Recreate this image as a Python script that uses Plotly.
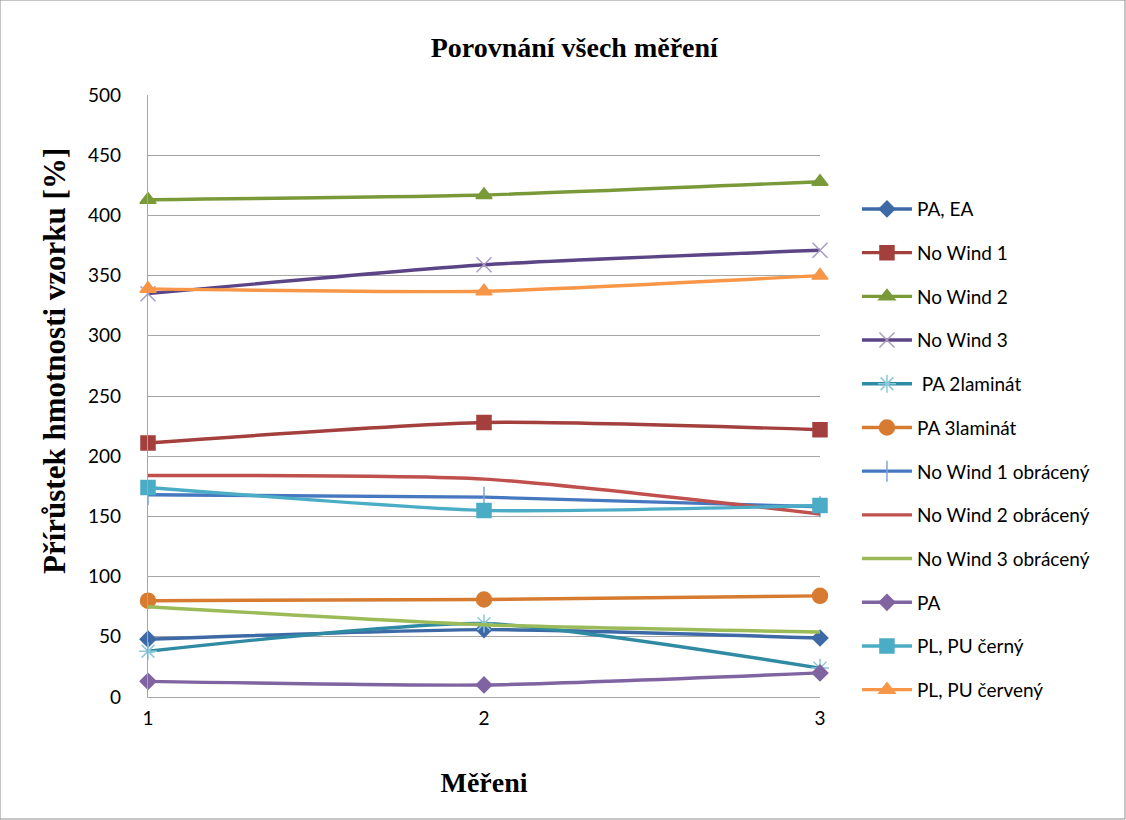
import plotly.graph_objects as go

# Measurement rounds
mereni = [1, 2, 3]

# Mass gain of each sample [%]
pa_ea = [48, 56, 49]
no_wind_1 = [211, 228, 222]
no_wind_2 = [413, 417, 428]
no_wind_3 = [335, 359, 371]
pa_2laminat = [38, 61, 24]
pa_3laminat = [80, 81, 84]
no_wind_1_obr = [168, 166, 158]
no_wind_2_obr = [184, 181, 152]
no_wind_3_obr = [75, 60, 54]
pa = [13, 10, 20]
pl_pu_cerny = [174, 155, 159]
pl_pu_cerveny = [339, 337, 350]

series = [
    ("PA, EA", pa_ea, "#3D6AA6", "diamond", 12, None),
    ("No Wind 1", no_wind_1, "#A3403D", "square", 14, None),
    ("No Wind 2", no_wind_2, "#7A9A3A", "triangle-up", 14, None),
    ("No Wind 3", no_wind_3, "#5B4586", "x-thin", 15, "#A89CC4"),
    ("\u00a0PA 2laminát", pa_2laminat, "#2F8AA3", "asterisk", 15, "#8CC8D8"),
    ("PA 3laminát", pa_3laminat, "#D77B30", "circle", 15, None),
    ("No Wind 1 obrácený", no_wind_1_obr, "#4678C0", "line-ns", 15, "#7FA3D6"),
    ("No Wind 2 obrácený", no_wind_2_obr, "#C0504D", None, 0, None),
    ("No Wind 3 obrácený", no_wind_3_obr, "#9BBB59", None, 0, None),
    ("PA", pa, "#8064A2", "diamond", 12, None),
    ("PL, PU černý", pl_pu_cerny, "#4BACC6", "square", 14, None),
    ("PL, PU červený", pl_pu_cerveny, "#F79646", "triangle-up", 14, None),
]

fig = go.Figure()
for i, (name, vals, color, symbol, size, mcolor) in enumerate(series):
    if symbol is None:
        mode = "lines"
        marker = None
    else:
        mode = "lines+markers"
        marker = dict(symbol=symbol, size=size, color=mcolor or color,
                      line=dict(width=1.5, color=mcolor or color))
    fig.add_trace(go.Scatter(
        x=mereni, y=vals, name=name, mode=mode,
        line=dict(color=color, width=3.4, shape="spline", smoothing=0.6),
        marker=marker, legendgroup=f"g{i}",
        cliponaxis=False,
    ))

serif = "Liberation Serif, Times New Roman, serif"
sans = "Lato, Open Sans, Liberation Sans, sans-serif"

fig.update_layout(
    width=1126, height=820,
    paper_bgcolor="white", plot_bgcolor="white",
    margin=dict(l=148, r=306, t=95, b=123),
    title=dict(text="<b>Porovnání všech měření</b>", x=0.51, xanchor="center",
               y=0.943, yanchor="middle",
               font=dict(family=serif, size=28, color="black")),
    xaxis=dict(
        range=[1, 3], tickvals=mereni, ticktext=[str(v) for v in mereni],
        showgrid=False,
        showline=True, linecolor="#A6A6A6", linewidth=1.3,
        ticks="", ticklabelstandoff=4,
        tickfont=dict(family=sans, size=19, color="black"),
        title=dict(text="<b>Měřeni</b>", font=dict(family=serif, size=28, color="black"),
                   standoff=44),
        zeroline=False,
    ),
    yaxis=dict(
        range=[0, 500], dtick=50,
        showgrid=True, gridcolor="#A6A6A6", gridwidth=1.3,
        showline=True, linecolor="#A6A6A6", linewidth=1.3,
        ticks="", ticklabelstandoff=22,
        tickfont=dict(family=sans, size=19, color="black"),
        zeroline=False,
    ),
    legend=dict(
        x=1.055, xanchor="left", y=0.842, yanchor="top",
        font=dict(family=sans, size=19, color="black"),
        tracegroupgap=16, itemwidth=50,
        bgcolor="rgba(0,0,0,0)",
    ),
    annotations=[dict(
        text="<b>Přírůstek hmotnosti vzorku [%]</b>", textangle=-90,
        xref="paper", yref="paper", x=-94 / 672, y=(697 - 361) / 602,
        xanchor="center", yanchor="middle", showarrow=False,
        font=dict(family=serif, size=31, color="black"),
    )],
    shapes=[dict(type="rect", xref="paper", yref="paper",
                 x0=-148 / 672, x1=(1125 - 148) / 672,
                 y0=-122 / 602, y1=(819 - 122) / 602,
                 line=dict(color="#8C8C8C", width=1))],
)

fig.write_html("out.html")
